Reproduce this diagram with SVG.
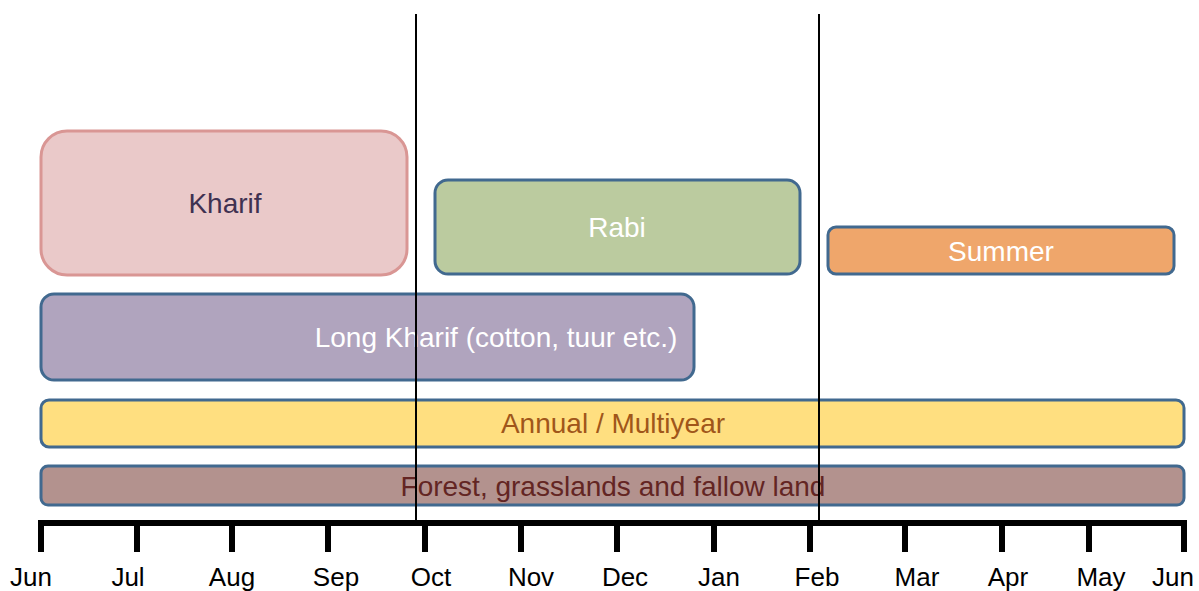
<svg xmlns="http://www.w3.org/2000/svg" width="1199" height="591" viewBox="0 0 1199 591">
<style>
.box{stroke:#41698F;stroke-width:3}
.lbl{font-family:"Liberation Sans",Arial,sans-serif;font-size:28px;text-anchor:middle}
.mon{font-family:"Liberation Sans",Arial,sans-serif;font-size:26px;text-anchor:middle;fill:#000}
.tick{stroke:#000;stroke-width:6}
.div{stroke:#000;stroke-width:2}
</style>
<rect width="1199" height="591" fill="#fff"/>
<g id="kharif">
<rect x="41" y="131" width="366" height="144" rx="26" fill="#EAC9C9" stroke="#D99694" stroke-width="3"/>
<text class="lbl" x="225" y="213" fill="#3F3151">Kharif</text>
</g>
<g id="rabi">
<rect class="box" x="435" y="180" width="365" height="94" rx="13" fill="#BBCB9F"/>
<text class="lbl" x="617" y="237" fill="#fff">Rabi</text>
</g>
<g id="summer">
<rect class="box" x="828" y="227" width="346" height="47" rx="8" fill="#EFA66B"/>
<text class="lbl" x="1001" y="261" fill="#fff">Summer</text>
</g>
<g id="long-kharif">
<rect class="box" x="41" y="294" width="653" height="86" rx="13" fill="#B0A4BE"/>
<text class="lbl" x="496" y="347" fill="#fff">Long Kharif (cotton, tuur etc.)</text>
</g>
<g id="annual">
<rect class="box" x="41" y="400" width="1143" height="47" rx="8" fill="#FFDF80"/>
<text class="lbl" x="613" y="433" fill="#A0561A">Annual / Multiyear</text>
</g>
<g id="forest">
<rect class="box" x="41" y="466" width="1143" height="39" rx="7" fill="#B3928E"/>
<text class="lbl" x="613" y="496" fill="#632523" font-size="27.5">Forest, grasslands and fallow land</text>
</g>
<g id="connectors">
<line class="div" x1="416" y1="14" x2="416" y2="523"/>
<line class="div" x1="819" y1="14" x2="819" y2="523"/>
</g>
<g id="axis">
<line class="tick" x1="38" y1="523" x2="1187" y2="523"/>
<g class="ticks">
<line class="tick" x1="41" y1="523" x2="41" y2="552"/>
<line class="tick" x1="137" y1="523" x2="137" y2="552"/>
<line class="tick" x1="232" y1="523" x2="232" y2="552"/>
<line class="tick" x1="328" y1="523" x2="328" y2="552"/>
<line class="tick" x1="425" y1="523" x2="425" y2="552"/>
<line class="tick" x1="521" y1="523" x2="521" y2="552"/>
<line class="tick" x1="617" y1="523" x2="617" y2="552"/>
<line class="tick" x1="714" y1="523" x2="714" y2="552"/>
<line class="tick" x1="810" y1="523" x2="810" y2="552"/>
<line class="tick" x1="905" y1="523" x2="905" y2="552"/>
<line class="tick" x1="1002" y1="523" x2="1002" y2="552"/>
<line class="tick" x1="1089" y1="523" x2="1089" y2="552"/>
<line class="tick" x1="1184" y1="523" x2="1184" y2="552"/>
</g>
<text class="mon" x="31" y="586">Jun</text>
<text class="mon" x="128" y="586">Jul</text>
<text class="mon" x="232" y="586">Aug</text>
<text class="mon" x="336" y="586">Sep</text>
<text class="mon" x="431" y="586">Oct</text>
<text class="mon" x="531" y="586">Nov</text>
<text class="mon" x="625" y="586">Dec</text>
<text class="mon" x="719" y="586">Jan</text>
<text class="mon" x="817" y="586">Feb</text>
<text class="mon" x="917" y="586">Mar</text>
<text class="mon" x="1008" y="586">Apr</text>
<text class="mon" x="1101" y="586">May</text>
<text class="mon" x="1173" y="586">Jun</text>
</g>
</svg>
